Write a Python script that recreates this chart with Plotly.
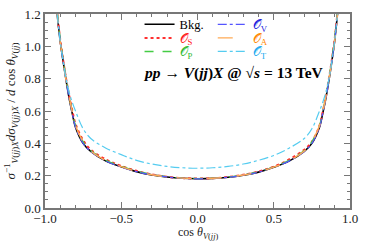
import plotly.graph_objects as go

cos_theta = [-0.94, -0.92, -0.90, -0.88, -0.86, -0.84, -0.82, -0.80, -0.75, -0.70, -0.60, -0.50,
             -0.40, -0.30, -0.20, -0.10, 0.00, 0.10, 0.20, 0.30, 0.40, 0.50, 0.60, 0.70,
             0.75, 0.80, 0.82, 0.84, 0.86, 0.88, 0.90, 0.92, 0.94]

bkg = [1.42, 1.20, 1.03, 0.90, 0.78, 0.67, 0.58, 0.50, 0.40, 0.35, 0.29, 0.255,
       0.225, 0.205, 0.192, 0.184, 0.181, 0.183, 0.190, 0.203, 0.222, 0.252, 0.29, 0.35,
       0.40, 0.50, 0.58, 0.67, 0.78, 0.90, 1.04, 1.22, 1.45]
o_s = [1.43, 1.21, 1.04, 0.91, 0.79, 0.69, 0.60, 0.52, 0.42, 0.36, 0.30, 0.26,
       0.23, 0.208, 0.193, 0.185, 0.182, 0.184, 0.192, 0.205, 0.226, 0.256, 0.30, 0.36,
       0.41, 0.51, 0.59, 0.68, 0.79, 0.91, 1.05, 1.23, 1.46]
o_p = [1.43, 1.21, 1.04, 0.91, 0.79, 0.68, 0.59, 0.51, 0.41, 0.355, 0.295, 0.258,
       0.228, 0.207, 0.193, 0.185, 0.182, 0.184, 0.191, 0.204, 0.224, 0.254, 0.295, 0.355,
       0.41, 0.51, 0.59, 0.68, 0.79, 0.91, 1.05, 1.23, 1.46]
o_v = [1.42, 1.20, 1.03, 0.90, 0.78, 0.67, 0.58, 0.50, 0.40, 0.35, 0.29, 0.254,
       0.225, 0.205, 0.192, 0.184, 0.180, 0.183, 0.190, 0.203, 0.222, 0.252, 0.29, 0.35,
       0.40, 0.50, 0.58, 0.67, 0.78, 0.90, 1.04, 1.22, 1.45]
o_a = [1.42, 1.20, 1.03, 0.90, 0.78, 0.68, 0.59, 0.51, 0.41, 0.352, 0.292, 0.256,
       0.226, 0.206, 0.193, 0.185, 0.181, 0.184, 0.191, 0.204, 0.223, 0.253, 0.292, 0.352,
       0.41, 0.51, 0.59, 0.68, 0.79, 0.90, 1.04, 1.22, 1.45]
o_t = [1.42, 1.20, 1.03, 0.90, 0.79, 0.71, 0.65, 0.60, 0.49, 0.43, 0.37, 0.33,
       0.295, 0.272, 0.257, 0.249, 0.246, 0.249, 0.257, 0.272, 0.295, 0.325, 0.37, 0.43,
       0.49, 0.60, 0.65, 0.71, 0.79, 0.90, 1.04, 1.22, 1.45]

x_ticks = [-1.0, -0.5, 0.0, 0.5, 1.0]
y_ticks = [0.0, 0.2, 0.4, 0.6, 0.8, 1.0, 1.2]

FONT = "Liberation Serif"

# name, values, line colour, dash, width, text colour, legend column, legend row
series = [
    ("Bkg.", bkg, "#000000", "solid", 1.6, "#000000", 0, 0),
    ("𝒪<sub>S</sub>", o_s, "#ff3030", "dot", 2.0, "#ff2020", 0, 1),
    ("𝒪<sub>P</sub>", o_p, "#44cc44", "dash", 1.4, "#33bb33", 0, 2),
    ("𝒪<sub>V</sub>", o_v, "#5555ff", "dashdot", 1.2, "#2222dd", 1, 0),
    ("𝒪<sub>A</sub>", o_a, "#ffaa55", "longdash", 1.4, "#ff8800", 1, 1),
    ("𝒪<sub>T</sub>", o_t, "#55ccf0", "dashdot", 1.2, "#22aaee", 1, 2),
]

leg_x = [0.31, 0.55]
leg_y = [0.945, 0.875, 0.805]

fig = go.Figure()
layout_legends = {}
for i, (name, ys, col, dash, w, tcol, c, r) in enumerate(series):
    key = "legend" if i == 0 else f"legend{i + 1}"
    fig.add_trace(go.Scatter(
        x=cos_theta, y=ys, mode="lines", line=dict(color=col, dash=dash, width=w, shape="spline"),
        name=f'<span style="color:{tcol}">{name}</span>', legend=key, showlegend=True,
    ))
    layout_legends[key] = dict(
        x=leg_x[c], y=leg_y[r], xanchor="left", yanchor="middle",
        bgcolor="rgba(0,0,0,0)", font=dict(family=FONT, size=12.5), itemwidth=30,
        visible=True,
    )

axis_common = dict(
    showline=True, linecolor="#777777", linewidth=1.5, mirror="ticks",
    ticks="inside", tickcolor="#777777", ticklen=6, tickwidth=1,
    showgrid=False, zeroline=False,
    tickfont=dict(family=FONT, size=13, color="#222222"),
)

fig.update_xaxes(range=[-1.0, 1.0], tickvals=x_ticks, ticktext=[f"{v:.1f}".replace("-", "−") for v in x_ticks],
                 minor=dict(ticks="inside", ticklen=3, dtick=0.1, tick0=0, tickcolor="#777777"),
                 ticklabelstandoff=-2,
                 **axis_common)
fig.update_yaxes(range=[0.0, 1.2], tickvals=y_ticks, ticktext=[f"{v:.1f}" for v in y_ticks],
                 minor=dict(ticks="inside", ticklen=3, dtick=0.05, tick0=0, tickcolor="#777777"),
                 **axis_common)

fig.update_layout(
    width=365, height=244,
    margin=dict(l=45, r=10, t=7, b=36),
    paper_bgcolor="white", plot_bgcolor="white",
    showlegend=True,
    annotations=[
        dict(x=0.235, y=0.835, xref="x", yref="y", showarrow=False,
             text="<b><i>pp</i> → <i>V</i>(<i>jj</i>)<i>X</i> @ √<i>s</i> = 13 TeV</b>",
             font=dict(family=FONT, size=15.5, color="#000000")),
        dict(x=0.5, y=-0.182, xref="paper", yref="paper", showarrow=False, yanchor="bottom",
             text="cos <i>θ</i><sub><i>V</i>(<i>jj</i>)</sub>",
             font=dict(family=FONT, size=12, color="#222222")),
        dict(x=-0.113, y=0.5, xref="paper", yref="paper", showarrow=False, textangle=-90,
             xanchor="center", yanchor="middle",
             text="<i>σ</i><sup>−1</sup><sub><i>V</i>(<i>jj</i>)<i>X</i></sub><i>dσ</i><sub><i>V</i>(<i>jj</i>)<i>X</i></sub> / <i>d</i> cos <i>θ</i><sub><i>V</i>(<i>jj</i>)</sub>",
             font=dict(family=FONT, size=13, color="#222222")),
    ],
    **layout_legends,
)

fig.write_html("out.html", config={"displayModeBar": False},
               post_script="document.body.style.margin='0';document.body.style.overflow='hidden';")
